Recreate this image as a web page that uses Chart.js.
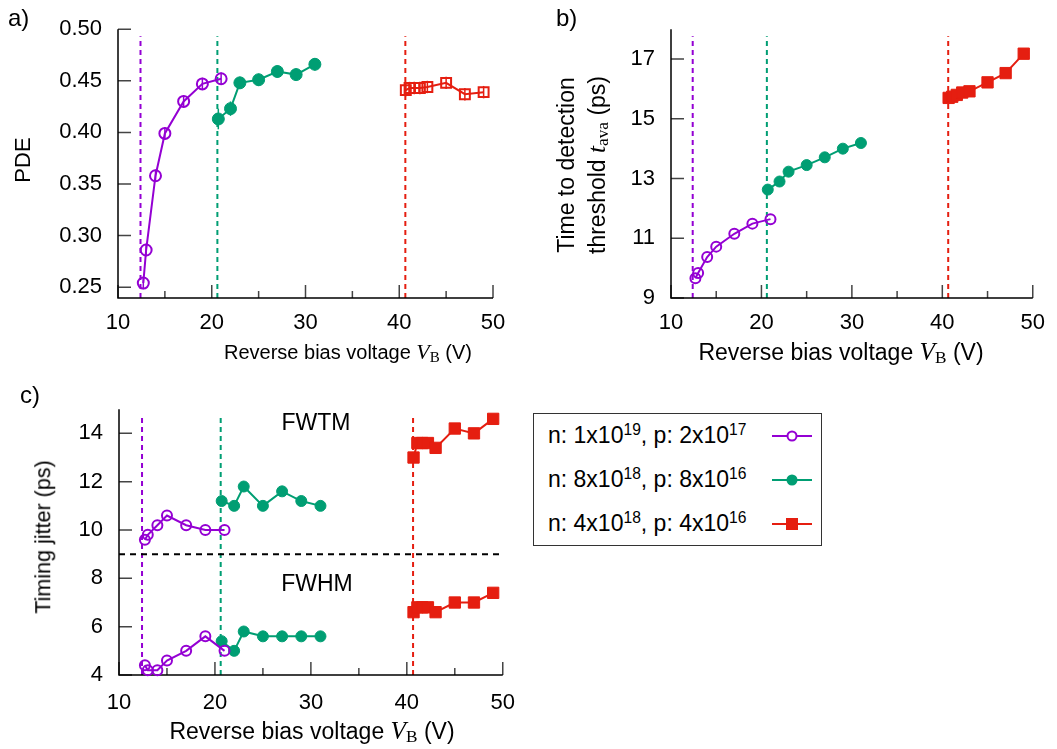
<!DOCTYPE html>
<html>
<head>
<meta charset="utf-8">
<script src="https://cdn.jsdelivr.net/npm/chart.js@4.4.1/dist/chart.umd.min.js"></script>
<style>
body{margin:0;background:#fff;width:1057px;height:749px;position:relative;overflow:hidden;font-family:"Liberation Sans",Arial,sans-serif;color:#000}
canvas{position:absolute}
.t{position:absolute;font-size:20px;white-space:nowrap;line-height:1}
.c{transform:translate(-50%,-50%)}
.rot{transform:translate(-50%,-50%) rotate(-90deg)}
.v{font-family:"Liberation Serif",serif;font-style:italic;font-size:1.1em}
.s{font-family:"Liberation Serif",serif;font-size:0.75em;position:relative;top:0.2em}
sup{font-size:0.68em;position:relative;top:-0.15em;vertical-align:top;line-height:1}
#legend{position:absolute;left:533px;top:413px;width:287px;height:131px;border:1.5px solid #333}
</style>
</head>
<body>
<canvas id="chartA" width="520" height="340" style="left:0;top:0"></canvas>
<canvas id="chartB" width="517" height="340" style="left:540px;top:0"></canvas>
<canvas id="chartC" width="530" height="340" style="left:0;top:380px"></canvas>

<div class="t" style="left:8px;top:6px;font-size:24px">a)</div>
<div class="t rot" style="left:23px;top:160px;font-size:22px">PDE</div>
<div class="t c" style="left:348px;top:352px;font-size:20px">Reverse bias voltage <span class="v">V</span><span class="s">B</span> (V)</div>

<div class="t" style="left:556px;top:6px;font-size:24px">b)</div>
<div class="t rot" style="left:566px;top:165px;font-size:23px">Time to detection</div>
<div class="t rot" style="left:597px;top:165px;font-size:23px">threshold <span class="v">t</span><span class="s">ava</span> (ps)</div>
<div class="t c" style="left:841px;top:352px;font-size:23px">Reverse bias voltage <span class="v">V</span><span class="s">B</span> (V)</div>

<div class="t" style="left:20px;top:383px;font-size:24px">c)</div>
<div class="t rot" style="left:44px;top:537px;font-size:21.5px">Timing jitter (ps)</div>
<div class="t c" style="left:312px;top:731px;font-size:23px">Reverse bias voltage <span class="v">V</span><span class="s">B</span> (V)</div>
<div class="t c" style="left:316px;top:422px;font-size:23px">FWTM</div>
<div class="t c" style="left:317px;top:583px;font-size:23px">FWHM</div>

<div id="legend"></div>

<script>
// bias voltages (V) of the three doping profiles
const vPurple = [12.7, 13.0, 14.0, 15.0, 17.0, 19.0, 21.0];
const vGreen = [20.7, 22.0, 23.0, 25.0, 27.0, 29.0, 31.0];
const vRed = [40.7, 41.1, 41.6, 42.2, 43.0, 45.0, 47.0, 49.0];

// breakdown voltages (dashed lines)
const breakdown = [12.4, 20.6, 40.65];

// a) PDE + error bars
const pdePurple = [0.254, 0.286, 0.358, 0.399, 0.430, 0.447, 0.452];
const pdeGreen = [0.413, 0.423, 0.448, 0.451, 0.459, 0.456, 0.466];
const pdeRed = [0.441, 0.443, 0.443, 0.443, 0.444, 0.448, 0.437, 0.439];
const errPurple = [0.006, 0.006, 0.006, 0.006, 0.006, 0.006, 0.006];
const errGreen = [0.010, 0.007, 0.006, 0.006, 0.006, 0.006, 0.006];
const errRed = [0.006, 0.006, 0.006, 0.006, 0.006, 0.006, 0.006, 0.006];

// b) time to detection threshold (ps)
const tPurple = [9.66, 9.84, 10.37, 10.72, 11.15, 11.49, 11.64];
const tGreen = [12.63, 12.90, 13.23, 13.45, 13.71, 14.00, 14.19];
const tRed = [15.70, 15.74, 15.80, 15.88, 15.92, 16.22, 16.53, 17.18];

// c) timing jitter (ps)
const fwtmPurple = [9.6, 9.8, 10.2, 10.6, 10.2, 10.0, 10.0];
const fwtmGreen = [11.2, 11.0, 11.8, 11.0, 11.6, 11.2, 11.0];
const fwtmRed = [13.0, 13.6, 13.6, 13.6, 13.4, 14.2, 14.0, 14.6];
const fwhmPurple = [4.4, 4.2, 4.2, 4.6, 5.0, 5.6, 5.0];
const fwhmGreen = [5.4, 5.0, 5.8, 5.6, 5.6, 5.6, 5.6];
const fwhmRed = [6.6, 6.8, 6.8, 6.8, 6.6, 7.0, 7.0, 7.4];
const jitterSplit = 9;

// tick labels
const xTicks = [10, 20, 30, 40, 50];
const xMinor = [15, 25, 35, 45];
const pdeTicks = [0.25, 0.30, 0.35, 0.40, 0.45, 0.50];
const tTicks = [9, 11, 13, 15, 17];
const jitterTicks = [4, 6, 8, 10, 12, 14];

const legendLabels = [
  'n: 1x10<sup>19</sup>, p: 2x10<sup>17</sup>',
  'n: 8x10<sup>18</sup>, p: 8x10<sup>16</sup>',
  'n: 4x10<sup>18</sup>, p: 4x10<sup>16</sup>'
];

const PURPLE = '#9400d3', GREEN = '#009e73', RED = '#e51e10';
const lineColors = [PURPLE, GREEN, RED];

Chart.defaults.font.family = '"Liberation Sans", Arial, sans-serif';
Chart.defaults.font.size = 20;
Chart.defaults.color = '#000';

const pts = (xs, ys) => xs.map((v, i) => ({x: v, y: ys[i]}));

// gnuplot-like frame: left/bottom axes, inward ticks, dashed guides, error bars
const framePlugin = {
  id: 'frame',
  beforeDatasetsDraw(chart, args, opts) {
    const {ctx, chartArea: a} = chart;
    const x = chart.scales.x, y = chart.scales.y;
    ctx.save();
    ctx.lineWidth = 2;
    ctx.setLineDash([5, 4]);
    breakdown.forEach((v, i) => {
      const px = x.getPixelForValue(v);
      ctx.strokeStyle = lineColors[i];
      ctx.beginPath();
      ctx.moveTo(px, a.bottom);
      ctx.lineTo(px, a.top + 7);
      ctx.stroke();
    });
    if (opts.hline != null) {
      const py = y.getPixelForValue(opts.hline);
      ctx.strokeStyle = '#000';
      ctx.setLineDash([6, 5]);
      ctx.beginPath();
      ctx.moveTo(a.left, py);
      ctx.lineTo(a.right, py);
      ctx.stroke();
    }
    ctx.setLineDash([]);
    (opts.errors || []).forEach((err, i) => {
      const ds = chart.data.datasets[i];
      ctx.strokeStyle = ds.borderColor;
      ctx.lineWidth = 1.5;
      ds.data.forEach((p, j) => {
        const px = x.getPixelForValue(p.x);
        ctx.beginPath();
        ctx.moveTo(px, y.getPixelForValue(p.y - err[j]));
        ctx.lineTo(px, y.getPixelForValue(p.y + err[j]));
        ctx.stroke();
      });
    });
    // ticks
    ctx.strokeStyle = '#444';
    ctx.lineWidth = 1.5;
    ctx.beginPath();
    xTicks.forEach(v => {
      const px = x.getPixelForValue(v);
      ctx.moveTo(px, a.bottom); ctx.lineTo(px, a.bottom - 13);
    });
    xMinor.forEach(v => {
      const px = x.getPixelForValue(v);
      ctx.moveTo(px, a.bottom); ctx.lineTo(px, a.bottom - 7);
    });
    y.ticks.forEach(t => {
      const py = y.getPixelForValue(t.value);
      ctx.moveTo(a.left, py); ctx.lineTo(a.left + 13, py);
    });
    ctx.stroke();
    // axes
    ctx.strokeStyle = '#000';
    ctx.lineWidth = 1.5;
    ctx.beginPath();
    ctx.moveTo(a.left, a.top);
    ctx.lineTo(a.left, a.bottom);
    ctx.lineTo(a.right, a.bottom);
    ctx.stroke();
    ctx.restore();
  }
};

function styleOpen(color, style, r) {
  return {borderColor: color, backgroundColor: 'rgba(0,0,0,0)', pointStyle: style,
    pointRadius: r, pointBorderWidth: 2, borderWidth: 2, showLine: true, clip: false};
}
function styleFilled(color, style, r) {
  return {borderColor: color, backgroundColor: color, pointStyle: style,
    pointRadius: r, pointBorderWidth: 1, borderWidth: 2, showLine: true, clip: false};
}

function makeChart(id, datasets, cfg) {
  return new Chart(document.getElementById(id), {
    type: 'scatter',
    data: {datasets: datasets},
    plugins: [framePlugin],
    options: {
      responsive: false,
      animation: false,
      devicePixelRatio: 1,
      layout: {padding: {top: cfg.top, right: cfg.right, left: 0, bottom: 0}},
      plugins: {legend: {display: false}, tooltip: {enabled: false},
        frame: {hline: cfg.hline, errors: cfg.errors}},
      scales: {
        x: {
          type: 'linear', min: 10, max: 50,
          afterBuildTicks: s => { s.ticks = xTicks.map(v => ({value: v})); },
          afterFit: s => { s.height = cfg.xh; },
          grid: {display: false, drawTicks: false},
          border: {display: false},
          ticks: {padding: cfg.xpad, font: {size: cfg.font}, callback: v => v}
        },
        y: {
          type: 'linear', min: cfg.ymin, max: cfg.ymax,
          afterBuildTicks: s => { s.ticks = cfg.yticks.map(v => ({value: v})); },
          afterFit: s => { s.width = cfg.yw; },
          grid: {display: false, drawTicks: false},
          border: {display: false},
          ticks: {padding: 16, font: {size: cfg.font}, callback: cfg.fmt}
        }
      }
    }
  });
}

makeChart('chartA', [
  Object.assign({data: pts(vPurple, pdePurple)}, styleOpen(PURPLE, 'circle', 5.5)),
  Object.assign({data: pts(vGreen, pdeGreen)}, styleFilled(GREEN, 'circle', 6)),
  Object.assign({data: pts(vRed, pdeRed)}, styleOpen(RED, 'rect', 7))
], {top: 25, right: 27, xh: 42, yw: 118, xpad: 12, font: 22, ymin: 0.2395, ymax: 0.50,
    yticks: pdeTicks, fmt: v => v.toFixed(2), errors: [errPurple, errGreen, errRed]});

makeChart('chartB', [
  Object.assign({data: pts(vPurple, tPurple)}, styleOpen(PURPLE, 'circle', 5)),
  Object.assign({data: pts(vGreen, tGreen)}, styleFilled(GREEN, 'circle', 5.5)),
  Object.assign({data: pts(vRed, tRed)}, styleFilled(RED, 'rect', 8))
], {top: 25, right: 22, xh: 42, yw: 131, xpad: 12, font: 22, ymin: 9, ymax: 18,
    yticks: tTicks, fmt: v => v});

makeChart('chartC', [
  Object.assign({data: pts(vPurple, fwtmPurple)}, styleOpen(PURPLE, 'circle', 5)),
  Object.assign({data: pts(vGreen, fwtmGreen)}, styleFilled(GREEN, 'circle', 5.5)),
  Object.assign({data: pts(vRed, fwtmRed)}, styleFilled(RED, 'rect', 8)),
  Object.assign({data: pts(vPurple, fwhmPurple)}, styleOpen(PURPLE, 'circle', 5)),
  Object.assign({data: pts(vGreen, fwhmGreen)}, styleFilled(GREEN, 'circle', 5.5)),
  Object.assign({data: pts(vRed, fwhmRed)}, styleFilled(RED, 'rect', 8))
], {top: 22, right: 26, xh: 45, yw: 119, xpad: 15, font: 22, ymin: 4, ymax: 15,
    yticks: jitterTicks, fmt: v => v, hline: jitterSplit});

// legend (HTML so the exponents can be superscripts)
const legend = document.getElementById('legend');
const markers = [
  '<circle cx="20" cy="8" r="4.5" fill="#fff" stroke="' + PURPLE + '" stroke-width="2"/>',
  '<circle cx="20" cy="8" r="5.5" fill="' + GREEN + '"/>',
  '<rect x="14" y="2" width="12" height="12" fill="' + RED + '"/>'
];
legendLabels.forEach((lab, i) => {
  const row = document.createElement('div');
  row.className = 't';
  row.style.left = '14px';
  row.style.top = (10 + i * 44) + 'px';
  row.style.fontSize = '23px';
  row.innerHTML = lab;
  legend.appendChild(row);
  const svg = document.createElementNS('http://www.w3.org/2000/svg', 'svg');
  svg.setAttribute('width', '42');
  svg.setAttribute('height', '16');
  svg.style.position = 'absolute';
  svg.style.left = '238px';
  svg.style.top = (14 + i * 44) + 'px';
  svg.innerHTML = '<line x1="0" y1="8" x2="40" y2="8" stroke="' + lineColors[i] + '" stroke-width="2"/>' + markers[i];
  legend.appendChild(svg);
});
</script>
</body>
</html>
